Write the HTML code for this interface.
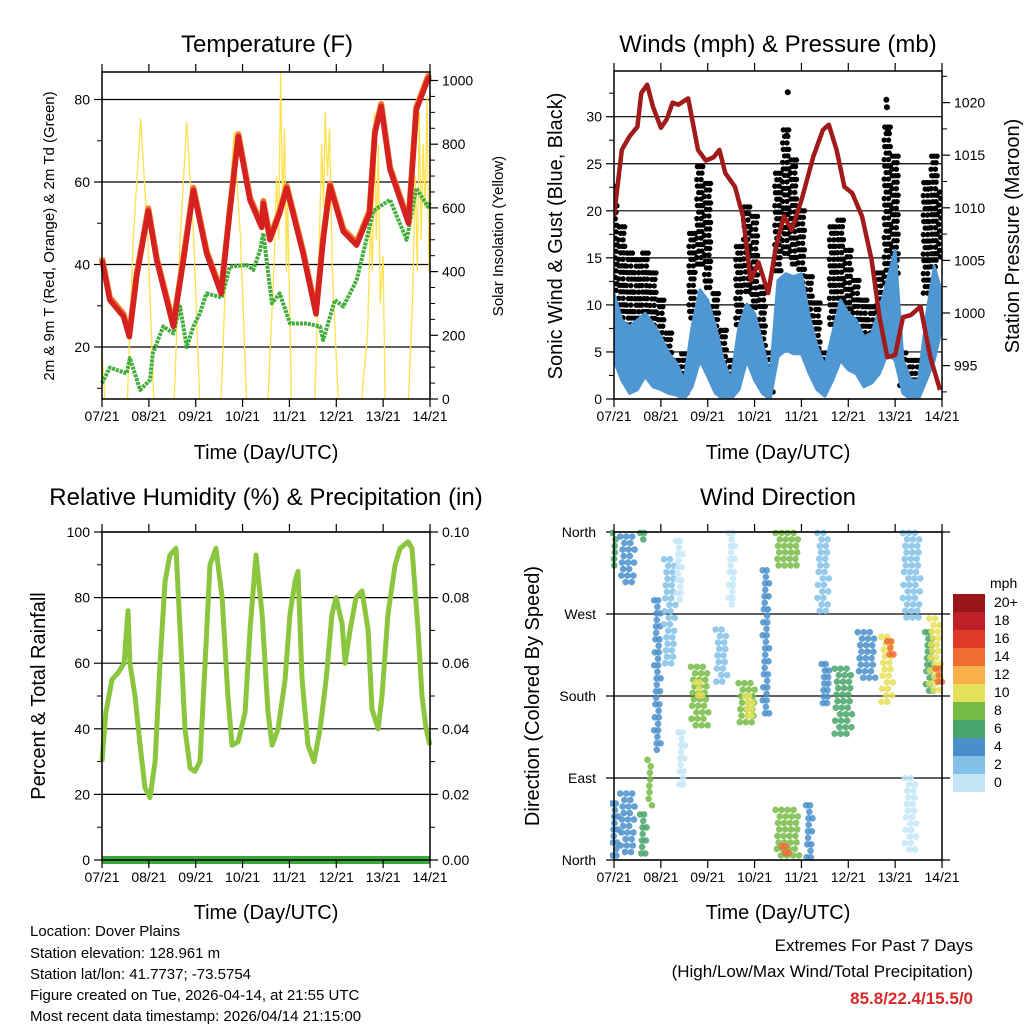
<!DOCTYPE html>
<html><head><meta charset="utf-8"><style>
html,body{margin:0;padding:0;background:#fff}
svg{display:block;font-family:"Liberation Sans",sans-serif}
</style></head><body>
<svg id="s" width="1024" height="1024" viewBox="0 0 1024 1024" xmlns="http://www.w3.org/2000/svg">
<g id="titles" font-size="24" text-anchor="middle" fill="#000">
<text x="267" y="52">Temperature (F)</text>
<text x="778" y="52">Winds (mph) &amp; Pressure (mb)</text>
<text x="266" y="505">Relative Humidity (%) &amp; Precipitation (in)</text>
<text x="778" y="505">Wind Direction</text>
</g>
<g font-size="20" text-anchor="middle">
<text x="266" y="459">Time (Day/UTC)</text>
<text x="778" y="459">Time (Day/UTC)</text>
<text x="266" y="919">Time (Day/UTC)</text>
<text x="778" y="919">Time (Day/UTC)</text>
<text transform="translate(54,236) rotate(-90)" font-size="15">2m &amp; 9m T (Red, Orange) &amp; 2m Td (Green)</text>
<text transform="translate(503,236) rotate(-90)" font-size="15">Solar Insolation (Yellow)</text>
<text transform="translate(562,236) rotate(-90)">Sonic Wind &amp; Gust (Blue, Black)</text>
<text transform="translate(1019,236) rotate(-90)">Station Pressure (Maroon)</text>
<text transform="translate(45,696) rotate(-90)">Percent &amp; Total Rainfall</text>
<text transform="translate(539,696) rotate(-90)">Direction (Colored By Speed)</text>
</g>
<g font-size="15">
<text x="30" y="936">Location: Dover Plains</text>
<text x="30" y="958">Station elevation: 128.961 m</text>
<text x="30" y="979">Station lat/lon: 41.7737; -73.5754</text>
<text x="30" y="1000">Figure created on Tue, 2026-04-14, at 21:55 UTC</text>
<text x="30" y="1021">Most recent data timestamp: 2026/04/14 21:15:00</text>
</g>
<g font-size="17" text-anchor="end">
<text x="973" y="951">Extremes For Past 7 Days</text>
<text x="973" y="977">(High/Low/Max Wind/Total Precipitation)</text>
<text x="973" y="1004" fill="#d42a2a" font-weight="bold">85.8/22.4/15.5/0</text>
</g>
</svg>
<script>
// ---- data ----
const dayLabels=['07/21','08/21','09/21','10/21','11/21','12/21','13/21','14/21'];
const tempHours=[0,4,11,14,17.7,23.7,28,36.5,41.7,46.8,53.6,61,65.5,69.8,75.8,81.8,82.6,86,91,94.6,103,109.6,113.3,116.8,123.6,130.4,137,139.8,143,147.5,157,161,167,168];
const tempVals=[41,31.4,27.4,22.5,37,53,41,25,41,58,42.7,33,53,71,55.6,49,54.8,46,52.4,58.5,42.7,28,46,59,48,44.7,52.4,71.8,78.3,63,50,77.5,85,85.5];
const dewHours=[0,4,12.6,14.3,19.5,24.6,26,31.4,36.5,40,43.4,46.8,50,53.6,61.3,65.5,74,77.5,81,82.6,87,91,96.3,104.8,111.6,113.3,119.3,123.6,130.4,139,147.5,156,161,167,168];
const dewVals=[11.2,15,13.6,17.3,9.6,12,18.5,25,23.3,29.8,20,25,28,33,32,39.5,39.9,38.7,43.5,47.6,30.6,33,25.7,25.7,25,21.7,31.4,29.8,36.2,53,55.7,46,58.5,54,55];
const solarHours=[0,1.5,13,16,19.8,23.5,26.5,37,40,43.4,47,50,61,64,67.6,71,74,85,88,89.5,90.5,91.5,92.5,93.5,94.5,95,97,109,111,112.5,113.5,114.3,115.5,116.5,118,121,133,136,137.5,138.5,139.5,140.5,141.5,142.5,144,145,157,159,160.5,161.5,162.5,163.5,164.5,165.5,166.5,167.5,168];
const solarVals=[150,0,0,500,880,500,0,0,500,870,500,0,0,500,838,500,0,0,400,700,500,1030,600,850,400,650,0,0,400,800,600,900,700,850,400,0,0,200,550,400,900,500,800,300,450,0,0,300,700,400,900,500,800,600,950,400,550];
const windHours=[0,4,8,12,16,20,24,28,32,36,40,44,48,52,56,60,64,68,72,76,80,84,88,92,96,100,104,108,112,116,120,124,128,132,136,140,144,148,152,156,160,164,168];
const windHi=[11.2,8.4,7.7,8.4,9.1,8.0,6.6,4.9,3.8,2.0,7.7,11.6,10.5,7.7,4.1,2.0,7.7,10.1,9.1,5.9,2.4,12.6,13.3,13.0,13.3,8.8,5.6,3.5,7.0,10.5,9.1,8.4,6.6,7.0,9.5,12.6,15.8,4.1,2.0,2.0,8.8,14.1,11.2];
const windLo=[4.1,2,0.6,1,2.4,1.3,1,0.6,0.4,0,1.3,4.1,2.4,0.6,0,0,1,4.1,2.0,0.6,0,4.5,5.2,4.8,4.8,2.7,1,0.3,2.0,4.1,3.1,2.7,1.3,1.7,2.7,4.8,4.1,0.6,0,0,2.0,4.1,7.7];
const gustHi=[22.6,18.3,15.5,14.8,15.5,13.4,10.5,7,4.1,4.8,17.6,24.7,22.9,11.2,7.3,4.1,16.2,20.4,19.4,11.9,4.9,24,28.6,25.4,20,13,10.2,4.9,18.3,19,15.8,12.6,10.5,9.8,13.4,28.9,25.8,4.9,4.1,4.1,23,25.8,22];
const gustLo=[11.2,5.9,5.2,5.9,7.7,5.2,4.1,2.4,1,0.3,8.5,14,11.2,4.8,2.4,0.6,7.7,11.2,9.4,4.8,0.6,13.1,14.8,14.1,11.2,5.9,4.1,1,7.7,8.5,7,5.5,4.8,4.5,5.9,11.2,13,1,0.6,0.6,11.2,13.4,14.8];
const gustOutHours=[89,139.5,139.8,88.5,140.3];
const gustOutVals=[32.6,31.8,31,28,28.5];
const presHours=[0,4,8,12,14,17,20,24,27,30,33,38,43,47,51,54,57,62,66,70,74,79,83,87,91,96,102,107,110,114,118,122,127,132,136,140,144,148,152,157,162,167];
const presVals=[1009.2,1015.5,1016.8,1017.7,1020.9,1021.7,1019.6,1017.6,1018.4,1020,1019.8,1020.4,1015.5,1014.5,1014.8,1015.5,1013.3,1012,1009.2,1003.1,1004.8,1001.9,1006.3,1009.2,1007.9,1010.7,1014.8,1017.4,1017.9,1015.5,1012,1011.4,1009.2,1005,999.6,995.8,996,999.6,999.8,1000.6,995.8,992.7];
const rhHours=[0,2,5.1,8.2,11.3,13.3,14.3,16.9,19.5,22,24.6,27.2,29.7,32.3,34.8,37.9,40,42.5,45.1,47.6,50.2,52.8,55.3,58.4,61.5,64.5,66.6,69.7,73.3,75.8,78.9,82,85,87.1,90.2,93.8,96.3,98.9,100.4,102.5,105.5,108.6,111.7,114.8,117.8,119.9,123,124.5,127,130.1,133.2,136.3,138.3,141.4,143.4,146.5,150.1,152.7,156.8,158.8,161.9,163.9,166,168];
const rhVals=[30,45,55,57,60,76,60,50,35,22,19,30,60,85,93,95,70,40,28,27,30,60,90,95,80,50,35,36,45,70,93,75,45,35,40,55,75,85,88,55,35,30,40,55,75,80,72,60,70,80,82,70,46,40,50,75,90,95,97,95,70,50,40,35];
const precipHours=[0,168];
const precipVals=[0,0];
// wind-direction clusters
const dirHour=[0.5,0.5,7.3,7.3,15,15,18.5,22.7,28.7,33.8,34.7,44,44,55.2,60.3,68.9,69.7,78.3,89.4,89.4,88.5,100.5,107.3,109,117.6,129.5,140.6,141.5,152.6,152.6,162,164.6,166.3];
const dirSpan=[1.5,2,7,7,2,2,1.5,3,5,3,2,8,3,5,2,9,4,3,12,12,4,3,5,4,8,8,6,2,8,6,4,5,2];
const dirLo=[322,2,300,4,346,4,55,117,212,280,80,146,175,194,280,146,155,161,322,2,3,2,270,170,135,200,170,220,260,5,180,185,190];
const dirHi=[359,62,355,73,359,50,110,285,330,350,140,212,195,253,359,194,180,318,359,55,15,60,359,215,210,250,245,240,359,90,250,265,210];
const dirSpeed=[7,4,4,4,6,6,8,4,2,0,0,9,11,3,1,8,10,4,9,9,14,4,3,4,7,4,11,15,2,1,6,10,14];
const cbLabels=['20+','18','16','14','12','10','8','6','4','2','0'];
const cbColors=['#981518','#bf1f27','#dd3b28','#ef6b30','#f8b04c','#e6e15a','#76bb46','#48a56a','#4a8fca','#83c1e8','#c3e6f7'];

// ---- helpers ----
const NS='http://www.w3.org/2000/svg';
const svg=document.getElementById('s');
function mk(tag,attrs,parent){const e=document.createElementNS(NS,tag);for(const k in attrs)e.setAttribute(k,attrs[k]);(parent||svg).appendChild(e);return e;}
function lin(d0,d1,r0,r1){return v=>r0+(v-d0)*(r1-r0)/(d1-d0);}
function panel(name){
  const g=mk('g',{});
  
  
  return g;
}
function frame(g,x0,x1,y0,y1){
  const r=mk('rect',{x:x0,y:y0,width:x1-x0,height:y1-y0,fill:'none',stroke:'#000','stroke-width':1.5},g);
  
  
}
function xAxis(g,x0,x1,y0,y1){
  const xs=lin(0,168,x0,x1);
  dayLabels.forEach((l,i)=>{
    const x=xs(i*24);
    mk('line',{x1:x,x2:x,y1:y1,y2:y1+8,stroke:'#000','stroke-width':1.2},g);
    mk('line',{x1:x,x2:x,y1:y0,y2:y0-8,stroke:'#000','stroke-width':1.2},g);
    const t=mk('text',{x:x,y:y1+22,'font-size':14,'text-anchor':'middle'},g);
    t.textContent=l;
    
    
  });
  return xs;
}
function yTicks(g,xEdge,dir,ys,vals,fmt,grid,x0,x1,minor){
  vals.forEach(v=>{
    const y=ys(v);
    if(grid) mk('line',{x1:x0,x2:x1,y1:y,y2:y,stroke:'#000','stroke-width':1.2},g);
    mk('line',{x1:xEdge,x2:xEdge+dir*8,y1:y,y2:y,stroke:'#000','stroke-width':1.2},g);
    const t=mk('text',{x:xEdge+dir*12,y:y+5,'font-size':14,'text-anchor':dir<0?'end':'start'},g);
    t.textContent=fmt(v);
    
    
  });
  (minor||[]).forEach(v=>{const y=ys(v);mk('line',{x1:xEdge,x2:xEdge+dir*5,y1:y,y2:y,stroke:'#000','stroke-width':1},g);});
}
function pts(xs,ys,H,V){return H.map((h,i)=>xs(h).toFixed(1)+','+ys(V[i]).toFixed(1)).join(' ');}

// ---- Panel 1: Temperature ----
(function(){
  const x0=102,x1=430,y0=72,y1=399;
  const g=panel('temperature-panel');
  const xs=lin(0,168,x0,x1);
  const ys=lin(20,80,347,99.5);
  const ss=lin(0,1000,399,80.5);
  yTicks(g,x0,-1,ys,[20,40,60,80],v=>v,true,x0,x1,[10,30,50,70]);
  yTicks(g,x1,1,ss,[0,200,400,600,800,1000],v=>v,false,0,0,[50,100,150,250,300,350,450,500,550,650,700,750,850,900,950]);
  const sol=mk('polyline',{points:pts(xs,ss,solarHours,solarVals),fill:'none',stroke:'#ffe14d','stroke-width':1.3},g);
  
  
  const dew=mk('polyline',{points:pts(xs,ys,dewHours,dewVals),fill:'none',stroke:'#43ad3c','stroke-width':4,'stroke-dasharray':'3 1','stroke-linejoin':'round'},g);
  
  
  const t9=mk('polyline',{points:pts(xs,ys,tempHours,tempVals.map(v=>v+0.6)),fill:'none',stroke:'#f07a2a','stroke-width':6,'stroke-linejoin':'round'},g);
  
  
  const t2=mk('polyline',{points:pts(xs,ys,tempHours,tempVals),fill:'none',stroke:'#d62121','stroke-width':5.5,'stroke-linejoin':'round'},g);
  
  
  frame(g,x0,x1,y0,y1);xAxis(g,x0,x1,y0,y1);
})();

// ---- Panel 2: Winds & Pressure ----
(function(){
  const x0=614,x1=942,y0=71,y1=399;
  const g=panel('winds-panel');
  const xs=lin(0,168,x0,x1);
  const ys=lin(0,30,399,116.7);
  const ps=lin(1000,1020,313,102.6);
  yTicks(g,x0,-1,ys,[0,5,10,15,20,25,30],v=>v,true,x0,x1,[2.5,7.5,12.5,17.5,22.5,27.5,32.5]);
  yTicks(g,x1,1,ps,[995,1000,1005,1010,1015,1020],v=>v,false,0,0,[992.5,997.5,1002.5,1007.5,1012.5,1017.5,1022.5]);
  const clip=mk('clipPath',{id:'c2'},g);mk('rect',{x:x0,y:y0,width:x1-x0,height:y1-y0},clip);
  const inner=mk('g',{'clip-path':'url(#c2)'},g);
  windHours.forEach((h,i)=>{
    const yH=ys(gustHi[i]),yL=ys(gustLo[i]);
    let row=0;
    for(let y=yH;y<=yL;y+=6.5){
      const cols=(row%3===0)?[-1.3,0.2,1.5]:(row%3===1?[-0.6,1.0]:[-1.6,0.6]);
      cols.forEach(c=>{
        const d=mk('circle',{cx:xs(h+c).toFixed(1),cy:y.toFixed(1),r:2.7,fill:'#000'},inner);
        
        
      });
      row++;
    }
  });
  gustOutHours.forEach((h,i)=>{
    const d=mk('circle',{cx:xs(h),cy:ys(gustOutVals[i]),r:3,fill:'#000'},inner);
    
    
  });
  const area=windHours.map((h,i)=>xs(h).toFixed(1)+','+ys(windHi[i]).toFixed(1)).concat(windHours.slice().reverse().map((h,j)=>{const i=windHours.length-1-j;return xs(h).toFixed(1)+','+ys(windLo[i]).toFixed(1);})).join(' ');
  const w=mk('polygon',{points:area,fill:'#4f97d2',stroke:'#4f97d2','stroke-width':3,'stroke-linejoin':'round'},inner);
  
  
  const p=mk('polyline',{points:pts(xs,ps,presHours,presVals),fill:'none',stroke:'#a11b1b','stroke-width':4.5,'stroke-linejoin':'round'},inner);
  
  
  frame(g,x0,x1,y0,y1);xAxis(g,x0,x1,y0,y1);
})();

// ---- Panel 3: RH & Precip ----
(function(){
  const x0=102,x1=430,y0=532,y1=860;
  const g=panel('humidity-panel');
  const xs=lin(0,168,x0,x1);
  const ys=lin(0,100,860,532);
  const pr=lin(0,0.1,860,532);
  yTicks(g,x0,-1,ys,[0,20,40,60,80,100],v=>v,true,x0,x1,[10,30,50,70,90]);
  yTicks(g,x1,1,pr,[0,0.02,0.04,0.06,0.08,0.1],v=>v.toFixed(2),false,0,0,[0.01,0.03,0.05,0.07,0.09]);
  const rh=mk('polyline',{points:pts(xs,ys,rhHours,rhVals),fill:'none',stroke:'#8cc63f','stroke-width':5,'stroke-linejoin':'round'},g);
  
  
  const pc=mk('polyline',{points:pts(xs,pr,precipHours,precipVals),fill:'none',stroke:'#3da63a','stroke-width':8},g);
  
  
  frame(g,x0,x1,y0,y1);xAxis(g,x0,x1,y0,y1);
})();

// ---- Panel 4: Wind direction ----
(function(){
  const x0=614,x1=942,y0=532,y1=860;
  const g=panel('wind-direction-panel');
  const xs=lin(0,168,x0,x1);
  const ys=lin(0,360,860,532);
  const labs=['North','East','South','West','North'];
  [0,90,180,270,360].forEach((v,i)=>{
    const y=ys(v);
    mk('line',{x1:x0-8,x2:x1+8,y1:y,y2:y,stroke:'#000','stroke-width':1.2},g);
    const t=mk('text',{x:x0-18,y:y+5,'font-size':14,'text-anchor':'end'},g);
    t.textContent=labs[i];
    
    
  });
  const clip=mk('clipPath',{id:'c4'},g);mk('rect',{x:x0-4,y:y0-4,width:x1-x0+8,height:y1-y0+8},clip);
  const inner=mk('g',{'clip-path':'url(#c4)'},g);
  dirHour.forEach((h,i)=>{
    const ci=10-Math.min(10,Math.floor(dirSpeed[i]/2));
    const col=cbColors[ci];
    const xa=xs(h-dirSpan[i]/2),xb=xs(h+dirSpan[i]/2);
    const yt=ys(dirHi[i]),yb=ys(dirLo[i]);
    let row=0;
    for(let y=yt;y<=yb;y+=6.5){
      const step=(xb-xa)>8?6:4;
      for(let x=xa+(row%2)*step/2;x<=xb+0.1;x+=step){
        const d=mk('circle',{cx:(x+((row*7)%5-2)*0.6).toFixed(1),cy:y.toFixed(1),r:3.3,fill:col,'fill-opacity':0.85},inner);
        
        
      }
      row++;
    }
  });
  frame(g,x0,x1,y0,y1);xAxis(g,x0,x1,y0,y1);
  const cb=mk('g',{},svg);
  
  
  const mt=mk('text',{x:990,y:588,'font-size':14},cb);mt.textContent='mph';
  cbColors.forEach((c,i)=>{
    mk('rect',{x:953,y:594+i*18,width:32,height:18,fill:c},cb);
    const t=mk('text',{x:994,y:609+i*18-2,'font-size':14},cb);
    t.textContent=cbLabels[i];
    
    
  });
})();
</script>
</body></html>
